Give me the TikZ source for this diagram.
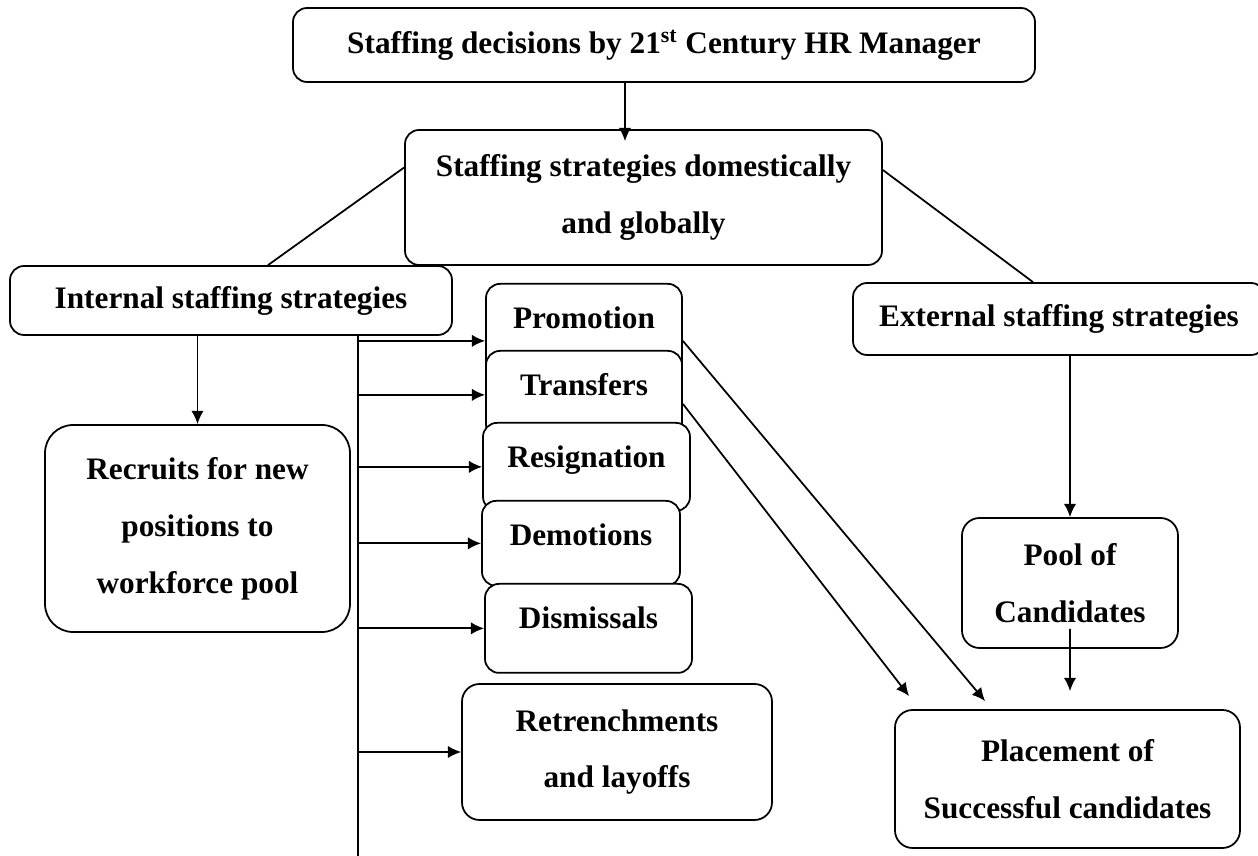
\documentclass[tikz,border=0pt]{standalone}
\usepackage{fontspec}
\setmainfont{Liberation Serif}
\usetikzlibrary{arrows.meta}
\usetikzlibrary{calc}
\usetikzlibrary{positioning}

\begin{document}
\begin{tikzpicture}[
		line width=1pt,
		every node/.style={font=\bfseries\fontsize{17.8}{32.4}\selectfont},
		stage/.style={rectangle, draw=black, rounded corners=8pt, fill=white, align=center, inner sep=0pt},
		tab/.style={stage, anchor=north, text height=0.9cm},
		arrow/.style={-{Latex[length=7.5pt, width=7pt]}}
	]
	\useasboundingbox (0,0) rectangle (25.16,17.12);
	\clip (0,0) rectangle (25.16,17.12);

	% Top level
	\node[stage, minimum width=14.84cm, minimum height=1.48cm] (decide) at (13.28,16.22) {Staffing decisions by 21\textsuperscript{st} Century HR Manager};
	\node[stage, minimum width=9.54cm, minimum height=2.70cm] (strategy) at (12.87,13.17) {Staffing strategies domestically\\and globally};
	\draw[arrow, shorten >=-0.24cm] ([xshift=-0.78cm]decide.south) -- ([xshift=-0.37cm]strategy.north);

	% Internal and external split
	\node[stage, minimum width=8.84cm, minimum height=1.38cm] (internal) at (4.62,11.11) {Internal staffing strategies};
	\node[stage, minimum width=8.24cm, minimum height=1.44cm] (external) at (21.18,10.74) {External staffing strategies};
	\draw ([yshift=0.6cm]strategy.west) -- ([xshift=0.74cm]internal.north);
	\draw ([yshift=0.55cm]strategy.east) -- ([xshift=-0.52cm]external.north);

	% Internal branch
	\node[stage, rounded corners=16pt, minimum width=6.10cm, minimum height=4.14cm] (recruits) at (3.95,6.55) {Recruits for new\\positions to\\workforce pool};
	\draw[arrow] (internal.south -| recruits.north) -- (recruits.north);

	\node[tab, minimum width=3.92cm, text depth=1.38cm] (promo) at (11.68,11.46) {Promotion};
	\node[tab, minimum width=3.92cm, text depth=0.86cm] (transfer) at (11.68,10.12) {Transfers};
	\node[tab, minimum width=4.14cm, text depth=0.86cm] (resign) at (11.73,8.68) {Resignation};
	\node[tab, minimum width=3.96cm, text depth=0.80cm] (demote) at (11.62,7.12) {Demotions};
	\node[tab, minimum width=4.14cm, text depth=0.88cm] (dismiss) at (11.77,5.46) {Dismissals};
	\node[stage, rounded corners=10pt, minimum width=6.20cm, minimum height=2.72cm] (retrench) at (12.34,2.08) {Retrenchments\\and layoffs};

	\coordinate (trunk) at (7.16,0);
	\draw (internal.south -| trunk) -- (trunk);
	\foreach \outcome in {promo,transfer,resign,demote,dismiss,retrench}
	\draw[arrow] (trunk |- \outcome.west) -- (\outcome.west);

	% External branch
	\node[stage, rounded corners=10pt, minimum width=4.32cm, minimum height=2.60cm] (pool) at (21.40,5.46) {Pool of\\Candidates};
	\node[stage, rounded corners=10pt, minimum width=6.90cm, minimum height=2.76cm] (placement) at (21.35,1.54) {Placement of\\Successful candidates};
	\draw[arrow] (external.south -| pool.north) -- (pool.north);
	\draw[arrow] ([yshift=0.4cm]pool.south) -- ([xshift=0.05cm, yshift=0.36cm]placement.north);

	% Internal moves feeding placement
	\draw[arrow] (promo.east) -- ([xshift=1.82cm, yshift=0.16cm]placement.north west);
	\draw[arrow] ([yshift=-0.18cm]transfer.east) -- ([xshift=0.3cm, yshift=0.26cm]placement.north west);

\end{tikzpicture}
\end{document}
